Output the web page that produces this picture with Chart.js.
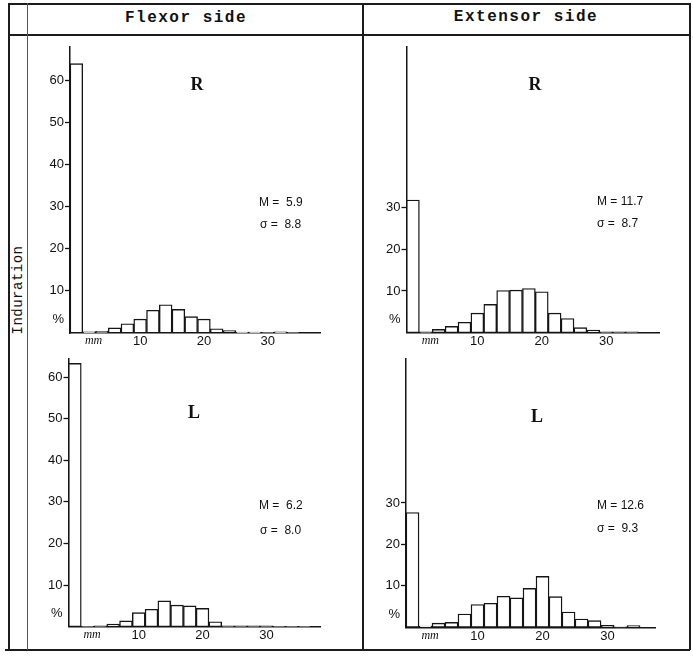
<!DOCTYPE html>
<html><head><meta charset="utf-8">
<script src="https://cdn.jsdelivr.net/npm/chart.js@4/dist/chart.umd.min.js"></script>
<style>
html,body{margin:0;padding:0;background:#fff;}
#page{position:relative;width:693px;height:657px;overflow:hidden;background:#fff;}
canvas{position:absolute;}
.ln{position:absolute;background:#1c1c1c;}
.t{position:absolute;color:#111;white-space:nowrap;transform:translate(-50%,-50%);}
.hdr{font-family:"Liberation Mono",monospace;font-weight:bold;font-size:16px;letter-spacing:1.5px;}
.side{font-family:"Liberation Mono",monospace;font-size:14px;letter-spacing:0.5px;transform:translate(-50%,-50%) rotate(-90deg);}
.rl{font-family:"Liberation Serif",serif;font-weight:bold;font-size:18px;}
.ann{position:absolute;color:#111;white-space:nowrap;font-family:"Liberation Sans",sans-serif;font-size:12px;transform:translateY(-50%);}
</style></head>
<body>
<div id="page">
  <div class="ln" style="left:8px;top:3px;width:682px;height:1.5px"></div>
  <div class="ln" style="left:8px;top:34px;width:682px;height:1.5px"></div>
  <div class="ln" style="left:5px;top:649px;width:685px;height:1.5px"></div>
  <div class="ln" style="left:8px;top:3px;width:1.5px;height:647px"></div>
  <div class="ln" style="left:27px;top:3px;width:1px;height:647px;background:#555"></div>
  <div class="ln" style="left:362px;top:3px;width:1.5px;height:647px"></div>
  <div class="ln" style="left:689px;top:3px;width:1.5px;height:647px"></div>

  <div class="t hdr" style="left:186px;top:18px">Flexor side</div>
  <div class="t hdr" style="left:526px;top:17px">Extensor side</div>
  <div class="t side" style="left:18px;top:290px">Induration</div>

  <canvas id="cTL"></canvas>
  <canvas id="cTR"></canvas>
  <canvas id="cBL"></canvas>
  <canvas id="cBR"></canvas>

  <div class="t rl" style="left:197px;top:84px">R</div>
  <div class="t rl" style="left:535px;top:84px">R</div>
  <div class="t rl" style="left:194px;top:412px">L</div>
  <div class="t rl" style="left:537px;top:416px">L</div>

  <div class="ann" style="left:259px;top:202px">M =&nbsp; 5.9</div>
  <div class="ann" style="left:260px;top:224px">σ =&nbsp; 8.8</div>
  <div class="ann" style="left:597px;top:201px">M = 11.7</div>
  <div class="ann" style="left:597px;top:223px">σ =&nbsp; 8.7</div>
  <div class="ann" style="left:259px;top:505px">M =&nbsp; 6.2</div>
  <div class="ann" style="left:260px;top:530px">σ =&nbsp; 8.0</div>
  <div class="ann" style="left:597px;top:505px">M = 12.6</div>
  <div class="ann" style="left:597px;top:528px">σ =&nbsp; 9.3</div>
</div>
<script>
// Bin centres (mm), 2 mm wide bins
const binsMm = [0,2,4,6,8,10,12,14,16,18,20,22,24,26,28,30,32,34,36,38];
// Percent of cases per bin
const flexorR   = [64.0, 0.3, 0.4, 1.2, 2.2, 3.3, 5.4, 6.7, 5.6, 3.9, 3.3, 1.0, 0.6, 0.2, 0.2, 0.1, 0.3, 0.1, 0, 0];
const flexorL   = [63.3, 0.1, 0.2, 0.6, 1.4, 3.4, 4.2, 6.2, 5.2, 5.0, 4.4, 1.2, 0.2, 0.2, 0.2, 0.2, 0.1, 0.1, 0.1, 0];
const extensorR = [31.8, 0.2, 0.8, 1.5, 2.5, 4.7, 6.8, 10.1, 10.2, 10.6, 9.8, 4.7, 3.4, 1.2, 0.6, 0.2, 0.2, 0.2, 0, 0];
const extensorL = [27.7, 0.3, 1.0, 1.2, 3.2, 5.5, 5.8, 7.5, 7.1, 9.4, 12.3, 7.4, 3.7, 2.0, 1.6, 0.5, 0.1, 0.4, 0, 0];
// Tick labels
const flexorTicksY = [10, 20, 30, 40, 50, 60];
const extensorTicksY = [10, 20, 30];
const xTicks = [10, 20, 30];
const unitLabelY = '%';
const unitLabelX = 'mm';

const PCT_AT = 3.2;   // where the '%' unit label sits on the y axis
const MM_AT = 2.7;    // where the 'mm' unit label sits on the x axis
const INK = '#151515';

function makePanel(id, rect, area, xMax, yMax, values, yTickVals) {
  const cv = document.getElementById(id);
  cv.width = rect.w; cv.height = rect.h;
  cv.style.left = rect.x + 'px'; cv.style.top = rect.y + 'px';
  const data = binsMm.map((b, i) => ({x: b, y: values[i]}));
  new Chart(cv, {
    type: 'bar',
    data: {datasets: [{
      data,
      backgroundColor: '#ffffff',
      borderColor: INK,
      borderWidth: 1.4,
      borderSkipped: false,
      barPercentage: 1,
      categoryPercentage: 1
    }]},
    options: {
      responsive: false, animation: false, devicePixelRatio: 1,
      layout: {padding: {left: 0, bottom: 0, top: area.top - rect.y, right: rect.x + rect.w - area.right}},
      plugins: {legend: {display: false}, tooltip: {enabled: false}},
      scales: {
        x: {
          type: 'linear', min: -1, max: xMax, offset: false,
          grid: {display: false, drawTicks: false, offset: false},
          border: {display: true, color: INK, width: 1.5},
          afterBuildTicks: s => { s.ticks = [{value: MM_AT}].concat(xTicks.map(v => ({value: v}))); },
          afterFit: s => { s.height = rect.y + rect.h - area.bottom; },
          ticks: {
            padding: 1, color: '#111', autoSkip: false, maxRotation: 0,
            font: ctx => (ctx.tick && ctx.tick.value === MM_AT)
              ? {family: 'Liberation Serif', size: 12, style: 'italic'}
              : {family: 'Liberation Sans', size: 13},
            callback: v => v === MM_AT ? unitLabelX : String(v)
          }
        },
        y: {
          min: 0, max: yMax,
          afterBuildTicks: s => { s.ticks = [{value: PCT_AT}].concat(yTickVals.map(v => ({value: v}))); },
          afterFit: s => { s.width = area.left - rect.x; },
          grid: {
            drawOnChartArea: false, drawTicks: true, tickLength: 5, tickWidth: 1.3,
            tickColor: ctx => (ctx.tick && ctx.tick.value === PCT_AT) ? 'rgba(0,0,0,0)' : INK
          },
          border: {display: true, color: INK, width: 1.5},
          ticks: {
            padding: 1, color: '#111', autoSkip: false,
            font: {family: 'Liberation Sans', size: 13},
            callback: v => v === PCT_AT ? unitLabelY : String(v)
          }
        }
      }
    }
  });
}

makePanel('cTL', {x: 25, y: 38, w: 320, h: 325}, {left: 70, top: 44, right: 320, bottom: 333}, 38.2, 68, flexorR, flexorTicksY);
makePanel('cTR', {x: 365, y: 38, w: 320, h: 325}, {left: 406.5, top: 45, right: 659, bottom: 332.7}, 38.2, 68.5, extensorR, extensorTicksY);
makePanel('cBL', {x: 25, y: 350, w: 320, h: 300}, {left: 68.5, top: 357, right: 320, bottom: 626.7}, 38.4, 64.4, flexorL, flexorTicksY);
makePanel('cBR', {x: 365, y: 350, w: 320, h: 300}, {left: 406, top: 357, right: 655, bottom: 627.3}, 37.3, 64.8, extensorL, extensorTicksY);
</script>
</body></html>
